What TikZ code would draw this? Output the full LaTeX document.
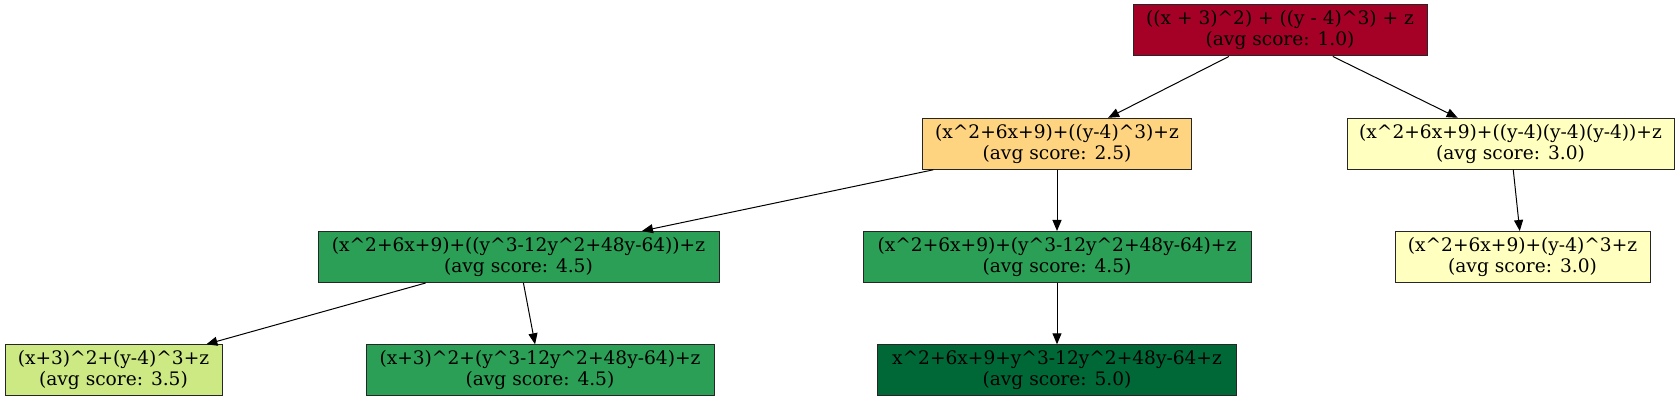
\documentclass[tikz,border=0pt]{standalone}
\usepackage{fontspec}
\setmainfont{DejaVu Serif}
\usetikzlibrary{arrows.meta}
\newcommand\crt{\textasciicircum}
\definecolor{cRoot}{HTML}{A50026}
\definecolor{cOrange}{HTML}{FED481}
\definecolor{cYellow}{HTML}{FFFFBF}
\definecolor{cLime}{HTML}{CCE983}
\definecolor{cGreen}{HTML}{2A9F55}
\definecolor{cDark}{HTML}{006837}
\tikzset{
  tnode/.style={draw=black!85, line width=1pt, rectangle, minimum height=51pt,
    inner xsep=0pt, inner ysep=0pt, align=center,
    font=\fontsize{18.6}{21}\selectfont},
  conn/.style={draw=black, line width=1pt, -{Triangle[length=11pt,width=9pt]}}
}
\begin{document}
\begin{tikzpicture}[x=1pt,y=1pt]
\useasboundingbox (0,0) rectangle (1679,401);
\node[tnode, fill=cRoot, minimum width=294pt] (root) at (1280,370.5) {((x + 3)\crt 2) + ((y - 4)\crt 3) + z\\(avg score: 1.0)};
\node[tnode, fill=cOrange, minimum width=269pt] (n2) at (1057,257.2) {(x\crt 2+6x+9)+((y-4)\crt 3)+z\\(avg score: 2.5)};
\node[tnode, fill=cYellow, minimum width=327pt] (n3) at (1510.5,257.2) {(x\crt 2+6x+9)+((y-4)(y-4)(y-4))+z\\(avg score: 3.0)};
\node[tnode, fill=cGreen, minimum width=401pt] (n4) at (518.5,144) {(x\crt 2+6x+9)+((y\crt 3-12y\crt 2+48y-64))+z\\(avg score: 4.5)};
\node[tnode, fill=cGreen, minimum width=388pt] (n5) at (1057,144) {(x\crt 2+6x+9)+(y\crt 3-12y\crt 2+48y-64)+z\\(avg score: 4.5)};
\node[tnode, fill=cYellow, minimum width=255pt] (n6) at (1522.5,144) {(x\crt 2+6x+9)+(y-4)\crt 3+z\\(avg score: 3.0)};
\node[tnode, fill=cLime, minimum width=217pt] (n7) at (113.5,30.7) {(x+3)\crt 2+(y-4)\crt 3+z\\(avg score: 3.5)};
\node[tnode, fill=cGreen, minimum width=348pt] (n8) at (540,30.7) {(x+3)\crt 2+(y\crt 3-12y\crt 2+48y-64)+z\\(avg score: 4.5)};
\node[tnode, fill=cDark, minimum width=359pt] (n9) at (1057,30.7) {x\crt 2+6x+9+y\crt 3-12y\crt 2+48y-64+z\\(avg score: 5.0)};
\draw[conn] (root) -- (n2);
\draw[conn] (root) -- (n3);
\draw[conn] (n2) -- (n4);
\draw[conn] (n2) -- (n5);
\draw[conn] (n3) -- (n6);
\draw[conn] (n4) -- (n7);
\draw[conn] (n4) -- (n8);
\draw[conn] (n5) -- (n9);
\end{tikzpicture}
\end{document}
